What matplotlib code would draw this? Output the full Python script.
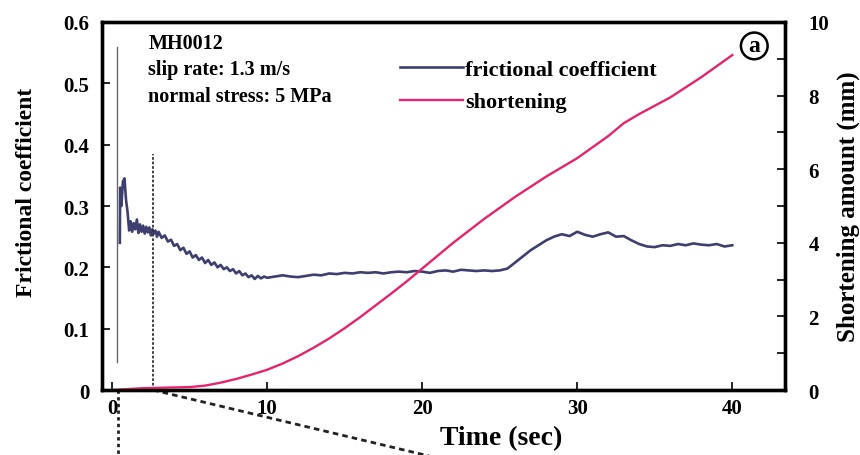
import matplotlib.pyplot as plt

# friction data (time in s, coefficient)
t_mu = [0.5, 0.52, 0.6, 0.7, 0.8, 0.9, 1.0, 1.1, 1.2, 1.3, 1.4, 1.5, 1.6, 1.7, 1.8,
        1.9, 2.0, 2.1, 2.2, 2.3, 2.4, 2.5, 2.6, 2.7, 2.8, 2.9, 3.0, 3.2, 3.4, 3.6,
        3.8, 4.0, 4.2, 4.4, 4.6, 4.8, 5.0, 5.2, 5.4, 5.6, 5.8, 6.0, 6.2, 6.4, 6.6,
        6.8, 7.0, 7.2, 7.4, 7.6, 7.8, 8.0, 8.2, 8.4, 8.6, 8.8, 9.0, 9.2, 9.4, 9.6,
        9.8, 10.0, 10.5, 11.0, 11.5, 12.0, 12.5, 13.0, 13.5, 14.0, 14.5,
        15.0, 15.5, 16.0, 16.5, 17.0, 17.5, 18.0, 18.5, 19.0, 19.5, 20.0, 20.5,
        21.0, 21.5, 22.0, 22.5, 23.0, 23.5, 24.0, 24.5, 25.0, 25.5, 26.0, 26.5,
        27.0, 27.5, 28.0, 28.5, 29.0, 29.5, 30.0, 30.5, 31.0, 31.5, 32.0, 32.5,
        33.0, 33.5, 34.0, 34.5, 35.0, 35.5, 36.0, 36.5, 37.0, 37.5, 38.0, 38.5,
        39.0, 39.5, 40.0]
mu = [0.24, 0.33, 0.30, 0.34, 0.345, 0.31, 0.29, 0.26, 0.275, 0.258, 0.272, 0.262,
      0.278, 0.256, 0.27, 0.258, 0.268, 0.255, 0.266, 0.257, 0.265, 0.252, 0.262,
      0.255, 0.26, 0.25, 0.258, 0.248, 0.252, 0.242, 0.245, 0.235, 0.238, 0.228,
      0.232, 0.222, 0.226, 0.216, 0.22, 0.212, 0.216, 0.207, 0.212, 0.204, 0.208,
      0.2, 0.204, 0.197, 0.2, 0.194, 0.197, 0.19, 0.194, 0.187, 0.19, 0.184, 0.187,
      0.181, 0.186, 0.182, 0.185, 0.183, 0.185, 0.187, 0.185, 0.184, 0.186, 0.188,
      0.187, 0.190, 0.189, 0.191, 0.190, 0.192, 0.191, 0.192, 0.190, 0.192, 0.193,
      0.192, 0.194, 0.193, 0.191, 0.194, 0.195, 0.193, 0.196, 0.195, 0.194, 0.195,
      0.194, 0.195, 0.198, 0.208, 0.218, 0.228, 0.236, 0.244, 0.250, 0.254, 0.251,
      0.258, 0.253, 0.250, 0.254, 0.257, 0.250, 0.251, 0.244, 0.238, 0.234, 0.233,
      0.236, 0.235, 0.238, 0.236, 0.239, 0.237, 0.236, 0.238, 0.234, 0.236]

# initial spike (gray thin line)
t_spike = [0.3, 0.3]
mu_spike = [0.045, 0.56]

# shortening (mm)
t_sh = [0, 2, 4, 5, 6, 7, 8, 9, 10, 11, 12, 13, 14, 15, 16, 17, 18, 19, 20, 22,
        24, 26, 28, 30, 32, 33, 34, 36, 38, 40]
sh = [0, 0.05, 0.07, 0.08, 0.12, 0.2, 0.3, 0.42, 0.55, 0.72, 0.92, 1.15, 1.4,
      1.68, 1.98, 2.3, 2.62, 2.95, 3.3, 4.0, 4.65, 5.25, 5.8, 6.3, 6.9, 7.25,
      7.5, 7.95, 8.5, 9.1]

# dotted guide lines
t_cut = [2.65, 2.65]
mu_cut = [0, 0.385]

serif = "Liberation Serif"
plt.rcParams["font.family"] = serif
plt.rcParams["font.weight"] = "bold"

fig = plt.figure(figsize=(8.6, 4.56), dpi=100)
ax = fig.add_axes([0.1186, 0.1425, 0.7942, 0.8071])
ax2 = ax.twinx()

ax.plot(t_spike, mu_spike, color="#666666", lw=1.0)
l1, = ax.plot(t_mu, mu, color="#3d3f70", lw=1.9, label="frictional coefficient")
ax.plot(t_cut, mu_cut, color="#333333", lw=1.3, ls=(0, (1.5, 1)))
# zoom guides below the axis
ax.plot([0.4, 0.4], [0, -0.12], color="#222222", lw=2, ls=(0, (1.2, 1.2)), clip_on=False)
ax.plot([2.65, 22.5], [0, -0.12], color="#222222", lw=2, ls=(0, (2, 1.5)), clip_on=False)

l2, = ax2.plot(t_sh, sh, color="#e8236e", lw=1.7, label="shortening")

ax.set_xlim(-0.65, 43.4)
ax.set_ylim(0, 0.6)
ax2.set_ylim(0, 10)

ax.set_xticks([0, 10, 20, 30, 40])
ax.set_xticklabels(["0", "10", "20", "30", "40"])
ax.set_yticks([0, 0.1, 0.2, 0.3, 0.4, 0.5, 0.6])
ax.set_yticklabels(["0", "0.1", "0.2", "0.3", "0.4", "0.5", "0.6"])
ax2.set_yticks([0, 2, 4, 6, 8, 10])
ax2.set_yticks([1, 3, 5, 7, 9], minor=True)

for a in (ax, ax2):
    for s in a.spines.values():
        s.set_linewidth(2.4)
ax.tick_params(direction="in", length=6, width=1.2, labelsize=15)
ax.tick_params(axis="y", pad=9)
ax.tick_params(axis="x", pad=6)
ax2.tick_params(direction="in", length=6, width=1.2, labelsize=15, pad=17)
ax2.tick_params(which="minor", direction="in", length=6, width=1.2)

ax.set_xlabel("Time (sec)", fontsize=20, fontweight="bold")
ax.xaxis.set_label_coords(0.585, -0.095)
ax.set_ylabel("Frictional coefficient", fontsize=17, fontweight="bold")
ax.yaxis.set_label_coords(-0.095, 0.54)
ax2.set_ylabel("Shortening amount (mm)", fontsize=18, fontweight="bold")
ax2.yaxis.set_label_coords(1.075, 0.5)

ax.text(0.068, 0.943, "MH0012", transform=ax.transAxes, fontsize=14.5, fontweight="bold", va="center")
ax.text(0.068, 0.873, "slip rate: 1.3 m/s", transform=ax.transAxes, fontsize=14.5, fontweight="bold", va="center")
ax.text(0.068, 0.799, "normal stress: 5 MPa", transform=ax.transAxes, fontsize=14.5, fontweight="bold", va="center")

ax.legend(handles=[l1, l2], loc="center left", bbox_to_anchor=(0.436, 0.827), frameon=False,
          borderpad=0, borderaxespad=0, handlelength=2.85, handletextpad=0.1,
          labelspacing=0.55, prop={"family": serif, "weight": "bold", "size": 16})

ax.text(0.955, 0.935, "a", transform=ax.transAxes, fontsize=17, fontweight="bold",
        ha="center", va="center",
        bbox=dict(boxstyle="circle,pad=0.12", fc="white", ec="black", lw=1.8))

fig.savefig("out.png", dpi=100)
